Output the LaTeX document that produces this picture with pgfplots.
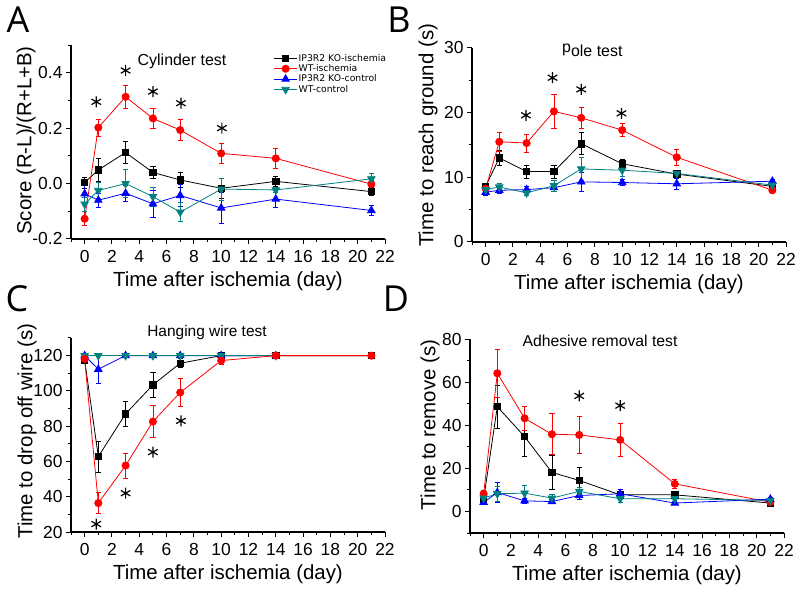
\documentclass[border=0pt]{standalone}
\usepackage{pgfplots}
\pgfplotsset{compat=1.18}
\usepackage{fontspec}
\setmainfont{Liberation Sans}
\newfontfamily\legfont{DejaVu Sans}
\newfontfamily\panelfont{Open Sans}
\definecolor{wtc}{RGB}{0,128,128}
\pgfplotsset{
  panel/.style={
    scale only axis, width=314bp, height=194bp,
    axis x line*=bottom, axis y line*=left,
    x axis line style={-}, y axis line style={-},
    axis line style={line width=1.1bp},
    xmin=-1, xmax=22, xtick={0,2,...,22}, minor xtick={-1,1,3,...,21},
    tick align=outside, major tick length=5bp, minor tick length=3bp,
    every tick/.style={black, line width=1bp},
    /pgf/number format/assume math mode=true,
    ticklabel style={font=\fontsize{17.5}{17.5}\selectfont},
    xticklabel style={yshift=-2.5bp},
    label style={font=\fontsize{20.5}{20.5}\selectfont},
    xlabel={Time after ischemia (day)},
    xlabel style={at={(rel axis cs:0.5,-0.247)}, anchor=base},
    clip=false,
    error bars/y dir=both, error bars/y explicit,
    error bars/error bar style={line width=0.7bp},
    error bars/error mark options={line width=0.7bp, mark size=2.6bp, rotate=90},
  },
  ko/.style={black, line width=0.8bp, mark=square*, mark size=3.2bp, mark options={solid}},
  wt/.style={red, line width=0.8bp, mark=*, mark size=3.6bp, mark options={solid}},
  koc/.style={blue, line width=0.8bp, mark=triangle*, mark size=4.3bp, mark options={solid}},
  wtcs/.style={wtc, line width=0.8bp, mark=triangle*, mark size=4.3bp, mark options={solid, rotate=180}},
  star/.style={black, only marks, mark=asterisk, mark size=5.5bp, mark options={line width=1.2bp}, forget plot},
}
\begin{document}
\begin{tikzpicture}
\path[use as bounding box] (0,0) rectangle (800bp,593bp);
% ---------------- A ----------------
\begin{axis}[panel, at={(71bp,354bp)}, anchor=south west,
  ymin=-0.2, ymax=0.5, ytick={-0.2,0,0.2,0.4}, yticklabels={-0.2,0.0,0.2,0.4},
  minor ytick={-0.1,0.1,0.3,0.5},
  ylabel={Score (R-L)/(R+L+B)},
  ylabel style={at={(rel axis cs:-0.143,0.508)}, anchor=center},
  legend style={at={(rel axis cs:0.645,0.96)}, anchor=north west, draw=none, fill=none,
    font=\legfont\fontsize{9.3}{10.5}\selectfont, inner sep=0pt, row sep=-0.6bp,
    nodes={inner sep=1.2bp}},
  legend cell align=left,
  legend image code/.code={\draw[mark repeat=2,mark phase=2,#1] plot coordinates {(0bp,0bp) (11.5bp,0bp) (23bp,0bp)};},
]
\addplot[ko] coordinates {(0,0.004) +- (0,0.02) (1,0.049) +- (0,0.042) (3,0.112) +- (0,0.04) (5,0.040) +- (0,0.022) (7,0.013) +- (0,0.028) (10,-0.017) +- (0,0.035) (14,0.008) +- (0,0.018) (21,-0.029) +- (0,0.015)};
\addlegendentry{IP3R2 KO-ischemia}
\addplot[wt] coordinates {(0,-0.127) +- (0,0.025) (1,0.202) +- (0,0.03) (3,0.313) +- (0,0.043) (5,0.235) +- (0,0.035) (7,0.193) +- (0,0.037) (10,0.109) +- (0,0.036) (14,0.091) +- (0,0.035) (21,-0.002) +- (0,0.015)};
\addlegendentry{WT-ischemia}
\addplot[koc] coordinates {(0,-0.037) +- (0,0.03) (1,-0.060) +- (0,0.025) (3,-0.035) +- (0,0.03) (5,-0.073) +- (0,0.05) (7,-0.043) +- (0,0.04) (10,-0.088) +- (0,0.057) (14,-0.056) +- (0,0.03) (21,-0.097) +- (0,0.018)};
\addlegendentry{IP3R2 KO-control}
\addplot[wtcs] coordinates {(0,-0.074) +- (0,0.025) (1,-0.025) +- (0,0.03) (3,0.0) +- (0,0.05) (5,-0.047) +- (0,0.035) (7,-0.103) +- (0,0.035) (10,-0.020) +- (0,0.04) (14,-0.023) +- (0,0.01) (21,0.017) +- (0,0.02)};
\addlegendentry{WT-control}
\addplot[star] coordinates {(0.85,0.295) (3,0.408) (5,0.332) (7.05,0.29) (10.05,0.2)};
\end{axis}
% ---------------- B ----------------
\begin{axis}[panel, at={(472bp,351bp)}, anchor=south west,
  ymin=0, ymax=30, ytick={0,10,20,30}, minor ytick={5,15,25},
  ylabel={Time to reach ground (s)},
  ylabel style={at={(rel axis cs:-0.140,0.55)}, anchor=center},
]
\addplot[ko] coordinates {(0,8.6) +- (0,0.5) (1,13.0) +- (0,1.1) (3,10.9) +- (0,1.0) (5,10.9) +- (0,1.0) (7,15.2) +- (0,1.7) (10,12.1) +- (0,0.7) (14,10.5) +- (0,0.6) (21,8.6) +- (0,0.4)};
\addplot[wt] coordinates {(0,8.25) +- (0,0.5) (1,15.5) +- (0,1.5) (3,15.3) +- (0,1.4) (5,20.2) +- (0,2.7) (7,19.2) +- (0,1.6) (10,17.3) +- (0,1.0) (14,13.1) +- (0,1.3) (21,8.0) +- (0,0.3)};
\addplot[koc] coordinates {(0,7.7) +- (0,0.5) (1,8.0) +- (0,0.5) (3,8.1) +- (0,0.5) (5,8.4) +- (0,0.5) (7,9.3) +- (0,1.4) (10,9.2) +- (0,0.5) (14,9.0) +- (0,0.9) (21,9.4) +- (0,0.3)};
\addplot[wtcs] coordinates {(0,8.1) +- (0,0.4) (1,8.5) +- (0,0.5) (3,7.6) +- (0,0.4) (5,8.7) +- (0,0.8) (7,11.3) +- (0,1.8) (10,11.1) +- (0,0.9) (14,10.6) +- (0,0.5) (21,8.8) +- (0,0.3)};
\addplot[star] coordinates {(2.95,19.6) (4.9,25.4) (7.0,23.6) (9.95,19.9)};
\end{axis}
% ---------------- C ----------------
\begin{axis}[panel, at={(71bp,61bp)}, anchor=south west,
  ymin=20, ymax=130, ytick={20,40,...,120}, minor ytick={30,50,...,130},
  ylabel={Time to drop off wire (s)},
  ylabel style={at={(rel axis cs:-0.140,0.52)}, anchor=center},
]
\addplot[ko] coordinates {(0,117.5) +- (0,1.5) (1,62.8) +- (0,8.8) (3,87) +- (0,7) (5,103.4) +- (0,7) (7,115.7) +- (0,2.5) (10,120) +- (0,0) (14,120) +- (0,0) (21,120) +- (0,0)};
\addplot[koc] coordinates {(0,120) +- (0,0) (1,112.3) +- (0,8) (3,120) +- (0,0) (5,120) +- (0,0) (7,120) +- (0,0) (10,120) +- (0,0) (14,120) +- (0,0)};
\addplot[wtcs] coordinates {(0,120) +- (0,0) (1,120) +- (0,0) (3,120) +- (0,0) (5,120) +- (0,0) (7,120) +- (0,0) (10,120) +- (0,0) (14,120) +- (0,0)};
\addplot[wt] coordinates {(0,118.1) +- (0,1.5) (1,36.4) +- (0,6) (3,57.7) +- (0,7) (5,82.6) +- (0,9) (7,99.1) +- (0,8) (10,117.2) +- (0,2) (14,120) +- (0,0) (21,120) +- (0,0)};
\addplot[star] coordinates {(0.85,24.5) (3.0,42) (5.0,65.3) (7.05,83)};
\end{axis}
% ---------------- D ----------------
\begin{axis}[panel, at={(470bp,60bp)}, anchor=south west,
  ymin=-10, ymax=80, ytick={0,20,...,80}, minor ytick={-10,10,30,50,70},
  ylabel={Time to remove (s)},
  ylabel style={at={(rel axis cs:-0.127,0.557)}, anchor=center},
]
\addplot[ko] coordinates {(0,5.7) +- (0,1.5) (1,48.6) +- (0,10) (3,34.7) +- (0,9) (5,18.1) +- (0,7.7) (7,14.4) +- (0,6) (10,7.7) +- (0,1.5) (14,7.7) +- (0,1.5) (21,3.9) +- (0,0.8)};
\addplot[wt] coordinates {(0,8.2) +- (0,1.5) (1,64.1) +- (0,11) (3,43.2) +- (0,5.5) (5,35.8) +- (0,9.5) (7,35.5) +- (0,8.7) (10,33.2) +- (0,7.5) (14,12.8) +- (0,2.3) (21,4.3) +- (0,0.6)};
\addplot[koc] coordinates {(0,4.2) +- (0,1) (1,8.8) +- (0,4.5) (3,4.9) +- (0,1) (5,4.6) +- (0,1) (7,7.4) +- (0,2) (10,8.2) +- (0,2) (14,3.9) +- (0,0.8) (21,5.7) +- (0,0.8)};
\addplot[wtcs] coordinates {(0,6.2) +- (0,1.5) (1,8.2) +- (0,3.5) (3,8.5) +- (0,3.5) (5,6.2) +- (0,1.5) (7,9.3) +- (0,2) (10,5.9) +- (0,1.5) (14,5.9) +- (0,1) (21,5.1) +- (0,0.6)};
\addplot[star] coordinates {(7.0,53.6) (10.0,49.1)};
\end{axis}
% titles and panel letters
\node[font=\fontsize{16}{16}\selectfont] at (182bp,532bp) {Cylinder test};
\node[font=\fontsize{16}{16}\selectfont, anchor=base west, inner sep=0] at (562bp,540bp) {p\raisebox{-4bp}{ole test}};
\node[font=\fontsize{15.5}{15.5}\selectfont] at (207bp,260bp) {Hanging wire test};
\node[font=\fontsize{15.8}{15.8}\selectfont] at (600bp,252bp) {Adhesive removal test};
\node[font=\panelfont\fontsize{36}{36}\selectfont] at (18bp,573bp) {A};
\node[font=\panelfont\fontsize{36}{36}\selectfont] at (399bp,573bp) {B};
\node[font=\panelfont\fontsize{36}{36}\selectfont] at (17bp,294bp) {C};
\node[font=\panelfont\fontsize{36}{36}\selectfont] at (396bp,294bp) {D};
\end{tikzpicture}
\end{document}
